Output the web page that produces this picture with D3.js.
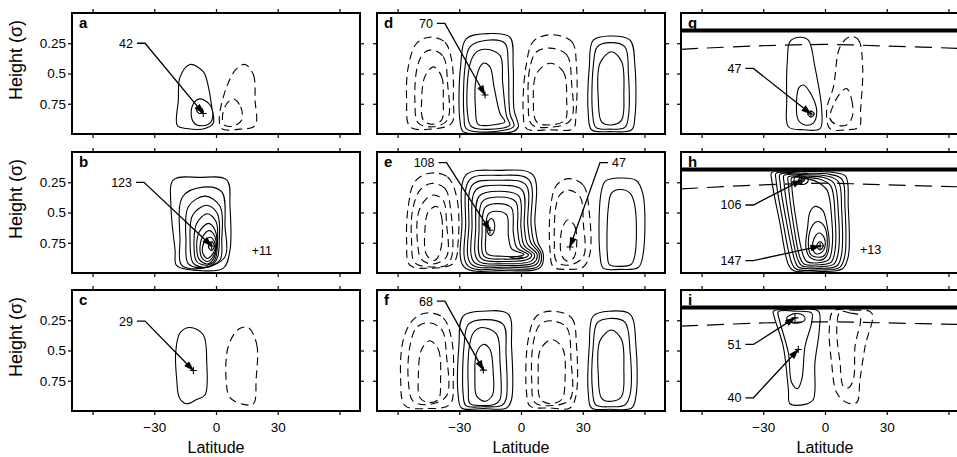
<!DOCTYPE html>
<html>
<head>
<meta charset="utf-8">
<script src="https://cdn.jsdelivr.net/npm/d3@7"></script>
<style>
  body { margin: 0; background: #fff; }
  svg { display: block; font-family: "Liberation Sans", Arial, Helvetica, sans-serif; }
</style>
</head>
<body>
<svg id="fig" width="957" height="457"></svg>
<script>
// axes
const latTicks = [-60, -30, 0, 30, 60];
const latLabelled = [-30, 0, 30];
const sigmaTicks = [0.25, 0.5, 0.75];
const sigmaTickLabels = ['0.25', '0.5', '0.75'];

// contour rings, [latitude, sigma]
const aSolid = [
  [[-12.6,0.425],[-6.2,0.485],[-3.7,0.61],[-2.1,0.775],[-1.3,0.91],[-5.3,0.955],[-14.3,0.955],[-18.8,0.93],[-18.3,0.72],[-17.5,0.53]],
  [[-7.8,0.71],[-2.9,0.76],[-1.6,0.86],[-3.7,0.92],[-9.4,0.925],[-11.8,0.87],[-11.3,0.76]],
  [[-8,0.775],[-6.5,0.8],[-8,0.83],[-9.5,0.8]]
];
const aDashed = [
  [[14.1,0.425],[18.2,0.51],[19,0.72],[19,0.93],[11.7,0.96],[2.8,0.955],[1.6,0.87],[5.2,0.61],[10,0.46]],
  [[8.4,0.71],[12,0.775],[12.5,0.885],[8.4,0.935],[3.9,0.925],[3.2,0.845],[5.2,0.75]]
];
const aLabels = [{ text: '42', knee: [-34.5, 0.25], peak: [-6.2, 0.83], side: 'left' }];

const bSolid = [
  [[-20.7,0.23],[-7.8,0.21],[5.2,0.23],[6.8,0.45],[6.8,0.81],[3.6,0.96],[-7.8,0.98],[-19.1,0.94],[-19.9,0.81],[-21.9,0.45]],
  [[-6.2,0.29],[2.8,0.33],[4.4,0.62],[4.4,0.865],[-6.2,0.96],[-16.7,0.935],[-17.5,0.73],[-16.2,0.37]],
  [[-5.3,0.365],[2,0.45],[2.8,0.73],[2,0.89],[-5.3,0.955],[-13.4,0.925],[-14.6,0.73],[-13.4,0.45]],
  [[-4.5,0.44],[0.7,0.51],[1.6,0.73],[0.3,0.89],[-4.5,0.95],[-11,0.92],[-12.6,0.73],[-11.3,0.52]],
  [[-4.2,0.51],[0,0.575],[0.7,0.755],[-0.5,0.89],[-4.2,0.935],[-9.4,0.905],[-10.7,0.755],[-9.4,0.59]],
  [[-3.7,0.59],[-0.5,0.645],[0.3,0.78],[-1.3,0.885],[-4.2,0.925],[-8.1,0.89],[-9.4,0.78],[-8.1,0.66]],
  [[-3.2,0.65],[-0.5,0.7],[0,0.795],[-1.6,0.87],[-4.2,0.905],[-7,0.87],[-7.8,0.79],[-6.5,0.7]],
  [[-2.9,0.705],[-0.8,0.74],[-0.5,0.805],[-2.1,0.855],[-4.2,0.88],[-6.2,0.845],[-6.6,0.79],[-5.3,0.735]],
  [[-2.1,0.741],[-0.8,0.777],[-2.1,0.815],[-3.7,0.782]]
];
const bDashed = [];
const bLabels = [{ text: '123', knee: [-35, 0.251], peak: [-2.1, 0.777], side: 'left' }];
const bNotes = [{ text: '+11', at: [17.4, 0.81] }];

const cSolid = [
  [[-12.6,0.31],[-6.2,0.37],[-4.5,0.6],[-5.3,0.865],[-9.4,0.905],[-14.3,0.94],[-17.8,0.89],[-19.1,0.74],[-19.6,0.52],[-17.5,0.355]]
];
const cDashed = [
  [[15.7,0.31],[19.8,0.45],[19.5,0.74],[18.2,0.94],[13.3,0.945],[6.8,0.89],[4.9,0.74],[6,0.465],[10.9,0.325]]
];
const cLabels = [{ text: '29', knee: [-34.5, 0.257], peak: [-11, 0.665], side: 'left' }];

const dSolid = [
  [[-15.1,0.17],[-5.4,0.2],[-3.8,0.445],[-3.4,0.8],[-1.3,0.94],[-3.8,0.98],[-15.1,0.99],[-28.1,0.98],[-29.7,0.885],[-29.4,0.445],[-26.4,0.21]],
  [[-16.7,0.225],[-7.8,0.25],[-6.2,0.445],[-5.4,0.83],[-3.4,0.935],[-7,0.965],[-26.4,0.96],[-27.7,0.855],[-27.2,0.445],[-24.8,0.28]],
  [[-17.5,0.3],[-10.2,0.35],[-8.9,0.58],[-7,0.855],[-5.4,0.925],[-8.6,0.95],[-24,0.94],[-26,0.83],[-25.1,0.445],[-22.4,0.335]],
  [[-18.3,0.415],[-15.1,0.445],[-13.1,0.61],[-10.2,0.83],[-7.8,0.9],[-11.9,0.92],[-20.8,0.92],[-22.1,0.8],[-21.6,0.525]],
  [[43.2,0.19],[53,0.225],[55.4,0.445],[55.4,0.855],[53.8,0.965],[43.2,0.98],[34.3,0.965],[32.7,0.83],[33.2,0.445],[35.1,0.225]],
  [[43.2,0.245],[50.5,0.28],[52.2,0.5],[52.2,0.855],[50.5,0.945],[43.2,0.96],[36.4,0.945],[34.8,0.83],[35.1,0.445],[37.1,0.28]],
  [[44,0.32],[48.9,0.4],[50,0.665],[48.9,0.885],[44,0.925],[39.2,0.9],[37.6,0.72],[38.4,0.415]]
];
const dDashed = [
  [[-44.3,0.2],[-37,0.24],[-33.7,0.39],[-32.9,0.72],[-33.7,0.91],[-44.3,0.96],[-54,0.94],[-55.6,0.72],[-54.8,0.445],[-50.7,0.25]],
  [[-43.5,0.305],[-37.8,0.36],[-35.7,0.58],[-35.8,0.885],[-42.6,0.94],[-49.9,0.91],[-51.6,0.72],[-50.4,0.445],[-47.5,0.335]],
  [[-42.6,0.445],[-38.6,0.525],[-37.8,0.72],[-38.6,0.885],[-43.5,0.92],[-47.5,0.885],[-48.3,0.72],[-46.7,0.525]],
  [[14.1,0.18],[24.6,0.235],[27,0.445],[26.7,0.83],[25.4,0.955],[14.1,0.965],[2.7,0.955],[1.1,0.83],[2.4,0.445],[6,0.235]],
  [[14.1,0.29],[22.2,0.345],[24.6,0.58],[24.1,0.885],[14.1,0.945],[5.2,0.92],[3.5,0.72],[4.4,0.445],[7.6,0.32]],
  [[14.1,0.415],[20.6,0.485],[22.2,0.72],[21.4,0.885],[14.1,0.925],[7.6,0.9],[6,0.72],[7.6,0.5]]
];
const dLabels = [{ text: '70', knee: [-37, 0.086], peak: [-17.5, 0.678], side: 'left' }];

const eSolid = [
  [[-26.7,0.19],[-11,0.152],[5.8,0.19],[6.8,0.6],[8.3,0.75],[10.8,0.84],[9.3,0.955],[-9,0.98],[-27.7,0.95],[-28.7,0.6]],
  [[-25,0.23],[-11,0.193],[3.9,0.23],[4.9,0.6],[6.4,0.75],[9.8,0.84],[8.3,0.945],[-8.5,0.965],[-25.9,0.94],[-26.9,0.6]],
  [[-23.5,0.27],[-11,0.234],[2.3,0.27],[3.3,0.6],[4.8,0.75],[8.8,0.84],[7.3,0.93],[-8,0.952],[-24.3,0.925],[-25.3,0.6]],
  [[-22,0.315],[-11,0.275],[0.6,0.315],[1.6,0.62],[3.1,0.76],[7.8,0.845],[6.3,0.915],[-8,0.938],[-22.8,0.91],[-23.8,0.62]],
  [[-20.3,0.365],[-11,0.325],[-1,0.365],[0,0.63],[1.5,0.77],[6.6,0.85],[5.1,0.9],[-8,0.924],[-21,0.895],[-22,0.63]],
  [[-18.8,0.41],[-11.5,0.372],[-2.6,0.41],[-1.6,0.65],[0,0.78],[5.2,0.85],[3.7,0.885],[-8,0.905],[-19.4,0.88],[-20.4,0.65]],
  [[-17.5,0.46],[-12,0.427],[-4.7,0.46],[-3.7,0.67],[-2,0.79],[3.6,0.85],[2,0.872],[-8,0.885],[-18,0.86],[-18.9,0.67]],
  [[-16,0.515],[-12.5,0.49],[-7,0.52],[-6.1,0.7],[-4.5,0.8],[1.5,0.845],[0,0.858],[-9,0.862],[-16.5,0.84],[-17.1,0.69]],
  [[-14.5,0.55],[-13,0.58],[-13.2,0.66],[-14.8,0.69],[-16.3,0.66],[-16,0.58]],
  [[-5.3,0.872],[-2,0.865],[1,0.874],[-2,0.882]],
  [[48,0.215],[56,0.235],[59.3,0.35],[59.3,0.85],[57,0.955],[48,0.97],[40,0.96],[38.4,0.85],[38.8,0.35],[41,0.24]],
  [[48,0.31],[53,0.34],[55.4,0.45],[55.4,0.85],[53.5,0.93],[48,0.945],[43,0.93],[42,0.85],[42.5,0.45],[44,0.34]]
];
const eDashed = [
  [[-44.3,0.175],[-35.8,0.205],[-31.3,0.37],[-30.5,0.73],[-32.9,0.92],[-44.3,0.96],[-54,0.935],[-55.6,0.73],[-54.8,0.45],[-51.6,0.245]],
  [[-43.5,0.26],[-37,0.3],[-34,0.505],[-33.7,0.865],[-36.2,0.935],[-43.5,0.95],[-51.6,0.915],[-53.2,0.73],[-52.7,0.48],[-49.1,0.315]],
  [[-42.6,0.355],[-37.8,0.4],[-36.2,0.59],[-36.2,0.865],[-42.6,0.925],[-48.3,0.89],[-50.4,0.73],[-49.9,0.505],[-46.7,0.4]],
  [[-41,0.45],[-38.6,0.535],[-39.1,0.81],[-41.8,0.895],[-45.9,0.85],[-46.7,0.645],[-45.1,0.495]],
  [[23,0.22],[30.3,0.275],[33.2,0.505],[33.5,0.84],[30.3,0.95],[22.2,0.97],[15.7,0.95],[14.1,0.81],[14.4,0.45],[17.3,0.275]],
  [[23,0.315],[28.7,0.37],[30.3,0.59],[30.3,0.865],[23,0.935],[17.3,0.905],[16.2,0.73],[17,0.45],[18.9,0.355]],
  [[23,0.56],[26.2,0.615],[27,0.78],[25.4,0.88],[22.2,0.9],[19.7,0.85],[19.3,0.7],[20.6,0.605]]
];
const eLabels = [
  { text: '108', knee: [-36.2, 0.088], peak: [-15.1, 0.647], side: 'left' },
  { text: '47', knee: [38.4, 0.088], peak: [23.8, 0.785], side: 'right' }
];

const fSolid = [
  [[-18.3,0.175],[-6.2,0.2],[-4.6,0.465],[-4.6,0.905],[-7,0.975],[-18.3,0.98],[-28.9,0.975],[-30.5,0.875],[-30.2,0.465],[-28.1,0.215]],
  [[-18.3,0.245],[-8.6,0.285],[-7.3,0.52],[-7.3,0.905],[-9.4,0.955],[-18.3,0.965],[-26.8,0.955],[-28.1,0.865],[-27.7,0.465],[-25.6,0.285]],
  [[-19.1,0.31],[-11.9,0.365],[-10.2,0.6],[-10.2,0.905],[-12.7,0.945],[-19.1,0.955],[-24.8,0.94],[-25.6,0.82],[-25.1,0.465],[-23.2,0.355]],
  [[-18.3,0.45],[-15.1,0.49],[-13.5,0.685],[-13.8,0.865],[-17.5,0.92],[-21.6,0.875],[-22.4,0.74],[-21.6,0.52]],
  [[43.2,0.175],[53,0.2],[55.9,0.465],[55.9,0.875],[53.8,0.975],[43.2,0.985],[34.3,0.975],[32.7,0.85],[33.2,0.465],[35.1,0.215]],
  [[43.2,0.235],[50.5,0.265],[53,0.5],[53,0.865],[50.5,0.95],[43.2,0.965],[36.4,0.95],[34.8,0.84],[35.1,0.465],[37.1,0.27]],
  [[44,0.33],[48.9,0.41],[50,0.65],[48.9,0.88],[44,0.92],[39.2,0.895],[37.6,0.71],[38.4,0.42]]
];
const fDashed = [
  [[-45.9,0.19],[-37.8,0.23],[-33.7,0.41],[-32.9,0.74],[-34.5,0.945],[-45.9,0.98],[-56.4,0.955],[-58.5,0.74],[-57.2,0.41],[-52.4,0.245]],
  [[-45.1,0.27],[-38.6,0.325],[-36.2,0.545],[-36.2,0.875],[-44.3,0.945],[-52.4,0.92],[-54.8,0.74],[-54,0.465],[-50.7,0.31]],
  [[-44.3,0.42],[-40.2,0.49],[-39.1,0.74],[-40.2,0.905],[-45.1,0.93],[-49.1,0.89],[-49.9,0.71],[-48.3,0.49]],
  [[14.9,0.175],[24.6,0.23],[27,0.465],[26.7,0.875],[23.8,0.975],[14.1,0.975],[4.4,0.96],[2.7,0.85],[3.5,0.41],[7.6,0.215]],
  [[14.9,0.255],[22.2,0.31],[24.3,0.575],[23.8,0.905],[14.9,0.955],[6.8,0.93],[5.2,0.74],[6,0.435],[9.2,0.285]],
  [[14.9,0.41],[20.2,0.48],[21.4,0.74],[19.8,0.905],[14.4,0.94],[9.5,0.905],[8.4,0.71],[9.5,0.49]]
];
const fLabels = [{ text: '68', knee: [-37, 0.092], peak: [-18.3, 0.662], side: 'left' }];

const gSolid = [
  [[-12.2,0.2],[-8.1,0.225],[-4.9,0.445],[-1.6,0.8],[-2.4,0.955],[-10.5,0.965],[-17.8,0.94],[-18.6,0.72],[-18.3,0.39],[-17,0.235]],
  [[-10.5,0.595],[-6.5,0.68],[-4,0.815],[-5.7,0.91],[-9.7,0.925],[-13,0.885],[-13.8,0.72],[-12.6,0.615]],
  [[-6.8,0.81],[-5.2,0.835],[-6.8,0.86],[-8.4,0.835]]
];
const gDashed = [
  [[12.2,0.195],[16.2,0.22],[18.3,0.445],[17.3,0.8],[16.7,0.94],[10.5,0.965],[2.4,0.955],[0.8,0.8],[4.1,0.61],[7.3,0.28]],
  [[10.5,0.625],[13,0.72],[13.3,0.855],[10.5,0.925],[5.7,0.925],[2.4,0.87],[4.1,0.76],[7.3,0.665]]
];
const gLabels = [{ text: '47', knee: [-34.8, 0.458], peak: [-6.8, 0.835], side: 'left' }];
const gTropopause = [[-70,0.30],[-35,0.273],[0,0.26],[30,0.273],[70,0.295]];

const hSolid = [
  [[-25.9,0.17],[-12.2,0.162],[4,0.17],[10,0.2],[11.3,0.45],[11.3,0.865],[8.5,0.965],[-2.4,0.988],[-15.4,0.98],[-17.8,0.93],[-21.9,0.59],[-25.9,0.23]],
  [[-23.8,0.176],[-11.3,0.176],[2.4,0.185],[8.3,0.226],[9.7,0.452],[9.7,0.85],[7.2,0.953],[-2.4,0.975],[-14.1,0.967],[-16.2,0.915],[-20.3,0.59],[-23.8,0.23]],
  [[-21.9,0.185],[-10.9,0.187],[0.8,0.198],[6.5,0.245],[8.1,0.48],[8.1,0.84],[5.9,0.94],[-2.4,0.962],[-12.8,0.953],[-14.6,0.9],[-18.6,0.59],[-21.9,0.245]],
  [[-19.9,0.193],[-10.5,0.198],[-0.8,0.21],[4.4,0.26],[6.5,0.507],[6.5,0.825],[4.4,0.925],[-2.4,0.948],[-11.3,0.94],[-13.3,0.885],[-17,0.59],[-19.9,0.253]],
  [[-17.8,0.204],[-9.7,0.21],[-2.4,0.226],[2.8,0.28],[4.9,0.535],[4.9,0.81],[3,0.91],[-2.4,0.932],[-10.2,0.925],[-12.2,0.87],[-15.4,0.59],[-17.8,0.264]],
  [[-16.2,0.212],[-9.7,0.218],[-4,0.245],[1,0.315],[3.3,0.56],[3.5,0.78],[1.8,0.89],[-3.2,0.915],[-8.9,0.905],[-10.9,0.84],[-13.8,0.59],[-16.2,0.273]],
  [[-4.9,0.45],[-1.2,0.48],[0.8,0.59],[2,0.78],[0.3,0.87],[-3.2,0.895],[-7.8,0.86],[-9.3,0.78],[-8.4,0.615],[-7.3,0.495]],
  [[-3.7,0.575],[-0.5,0.61],[1.1,0.725],[0,0.85],[-3.2,0.87],[-7,0.845],[-8.1,0.755],[-6.5,0.62]],
  [[-2.9,0.67],[-0.5,0.705],[0,0.78],[-1.6,0.83],[-4.4,0.84],[-6,0.79],[-5.3,0.715]],
  [[-2.4,0.74],[-0.8,0.775],[-2.4,0.81],[-4,0.775]],
  [[-13,0.198],[-9.2,0.209],[-8.1,0.237],[-9.7,0.264],[-13,0.264],[-15.1,0.237],[-14.6,0.209]],
  [[-11.5,0.215],[-10,0.232],[-11.5,0.25],[-13,0.232]]
];
const hDashed = [];
const hLabels = [
  { text: '106', knee: [-34.8, 0.438], peak: [-11.3, 0.232], side: 'left' },
  { text: '147', knee: [-34.8, 0.898], peak: [-2.4, 0.777], side: 'left' }
];
const hNotes = [{ text: '+13', at: [17, 0.806] }];
const hTropopause = [[-70,0.305],[-35,0.275],[0,0.258],[30,0.272],[70,0.29]];

const iSolid = [
  [[-25.1,0.175],[-13.8,0.16],[-3.2,0.175],[-2.75,0.325],[-4.9,0.6],[-5.7,0.905],[-9.7,0.945],[-17,0.94],[-17.8,0.82],[-20.3,0.465],[-24.8,0.215]],
  [[-22.7,0.18],[-13.8,0.175],[-6.5,0.19],[-6.5,0.27],[-9.7,0.465],[-11.3,0.74],[-13.4,0.815],[-16.2,0.765],[-17.8,0.52],[-22.2,0.245]],
  [[-14.6,0.195],[-10.5,0.21],[-9.7,0.245],[-12.2,0.27],[-17,0.265],[-18.6,0.23]]
];
const iDashed = [
  [[4,0.175],[13.8,0.166],[22.7,0.19],[19.5,0.465],[17,0.74],[15.4,0.93],[10.5,0.93],[5.7,0.85],[3.2,0.6],[2.1,0.325]],
  [[7.3,0.18],[12.2,0.19],[17,0.215],[14.6,0.465],[13.8,0.74],[11.3,0.81],[8.9,0.795],[7.3,0.6],[5.7,0.325]]
];
const iLabels = [
  { text: '51', knee: [-34.8, 0.45], peak: [-14.6, 0.23], side: 'left' },
  { text: '40', knee: [-34.8, 0.891], peak: [-13, 0.492], side: 'left' }
];
const iTropopause = [[-70,0.299],[-35,0.275],[0,0.263],[30,0.272],[70,0.287]];

const lidSigma = 0.145;

const panels = [
  { id: 'a', col: 0, row: 0, solid: aSolid, dashed: aDashed, labels: aLabels },
  { id: 'b', col: 0, row: 1, solid: bSolid, dashed: bDashed, labels: bLabels, notes: bNotes },
  { id: 'c', col: 0, row: 2, solid: cSolid, dashed: cDashed, labels: cLabels },
  { id: 'd', col: 1, row: 0, solid: dSolid, dashed: dDashed, labels: dLabels },
  { id: 'e', col: 1, row: 1, solid: eSolid, dashed: eDashed, labels: eLabels },
  { id: 'f', col: 1, row: 2, solid: fSolid, dashed: fDashed, labels: fLabels },
  { id: 'g', col: 2, row: 0, solid: gSolid, dashed: gDashed, labels: gLabels, trop: gTropopause },
  { id: 'h', col: 2, row: 1, solid: hSolid, dashed: hDashed, labels: hLabels, notes: hNotes, trop: hTropopause },
  { id: 'i', col: 2, row: 2, solid: iSolid, dashed: iDashed, labels: iLabels, trop: iTropopause }
];

const W = 288, H = 121;
const colX = [72, 377, 681];
const rowY = [13, 152, 290];

const x = d3.scaleLinear().domain([-70, 70]).range([0, W]);
const y = d3.scaleLinear().domain([0, 1]).range([0, H]);

const ringPath = d3.line()
  .x(d => x(d[0]))
  .y(d => y(d[1]))
  .curve(d3.curveCatmullRomClosed.alpha(0.5));

const tropPath = d3.line()
  .x(d => x(d[0]))
  .y(d => y(d[1]))
  .curve(d3.curveCatmullRom.alpha(0.5));

const svg = d3.select('#fig');
const defs = svg.append('defs');

defs.append('marker')
  .attr('id', 'arrow')
  .attr('viewBox', '0 0 12 8')
  .attr('refX', 11)
  .attr('refY', 4)
  .attr('markerWidth', 11)
  .attr('markerHeight', 7)
  .attr('markerUnits', 'userSpaceOnUse')
  .attr('orient', 'auto')
  .append('path')
  .attr('d', 'M0,0L12,4L0,8Z')
  .attr('fill', '#000');

defs.append('clipPath')
  .attr('id', 'plotArea')
  .append('rect')
  .attr('width', W)
  .attr('height', H);

const fmt = d3.format('d');

panels.forEach(p => {
  const g = svg.append('g')
    .attr('transform', 'translate(' + colX[p.col] + ',' + rowY[p.row] + ')');

  // ticks on all four sides, pointing outwards
  const bottom = d3.axisBottom(x).tickValues(latTicks).tickSize(4).tickPadding(7)
    .tickFormat(d => (p.row === 2 && latLabelled.includes(d)) ? fmt(d) : '');
  const top = d3.axisTop(x).tickValues(latTicks).tickSize(4).tickFormat('');
  const left = d3.axisLeft(y).tickValues(sigmaTicks).tickSize(4).tickPadding(2)
    .tickFormat((d, i) => p.col === 0 ? sigmaTickLabels[i] : '');
  const right = d3.axisRight(y).tickValues(sigmaTicks).tickSize(4).tickFormat('');

  [[bottom, 'translate(0,' + H + ')'], [top, null], [left, null], [right, 'translate(' + W + ',0)']]
    .forEach(([ax, tr]) => {
      const a = g.append('g').call(ax);
      if (tr) a.attr('transform', tr);
      a.select('.domain').remove();
      a.selectAll('.tick line').attr('stroke', '#000').attr('stroke-width', 1.2);
      a.selectAll('.tick text')
        .attr('fill', '#000')
        .style('font-size', '13.5px')
        .style('font-family', '"Liberation Sans", Arial, Helvetica, sans-serif');
    });

  const plot = g.append('g').attr('clip-path', 'url(#plotArea)');

  plot.selectAll('path.solid')
    .data(p.solid)
    .enter()
    .append('path')
    .attr('class', 'solid')
    .attr('d', ringPath)
    .attr('fill', 'none')
    .attr('stroke', '#000')
    .attr('stroke-width', 1.1);

  plot.selectAll('path.dashed')
    .data(p.dashed)
    .enter()
    .append('path')
    .attr('class', 'dashed')
    .attr('d', ringPath)
    .attr('fill', 'none')
    .attr('stroke', '#000')
    .attr('stroke-width', 1.1)
    .attr('stroke-dasharray', '8,5');

  if (p.trop) {
    plot.append('line')
      .attr('x1', 0).attr('x2', W)
      .attr('y1', y(lidSigma)).attr('y2', y(lidSigma))
      .attr('stroke', '#000')
      .attr('stroke-width', 4);
    plot.append('path')
      .attr('d', tropPath(p.trop))
      .attr('fill', 'none')
      .attr('stroke', '#000')
      .attr('stroke-width', 1.2)
      .attr('stroke-dasharray', '17,9');
  }

  // plus at each extremum, then the labelled arrow pointing at it
  p.labels.forEach(l => {
    const px = x(l.peak[0]), py = y(l.peak[1]);
    g.append('path')
      .attr('d', 'M' + (px - 3.5) + ',' + py + 'H' + (px + 3.5) + 'M' + px + ',' + (py - 3.5) + 'V' + (py + 3.5))
      .attr('stroke', '#000')
      .attr('stroke-width', 1.1);

    const kx = x(l.knee[0]), ky = y(l.knee[1]);
    const dir = l.side === 'left' ? -1 : 1;
    const tx = kx + dir * 8;
    g.append('path')
      .attr('d', 'M' + tx + ',' + ky + 'L' + kx + ',' + ky + 'L' + px + ',' + py)
      .attr('fill', 'none')
      .attr('stroke', '#000')
      .attr('stroke-width', 1.3)
      .attr('marker-end', 'url(#arrow)');
    g.append('text')
      .attr('x', tx + dir * 4)
      .attr('y', ky)
      .attr('dy', '0.36em')
      .attr('text-anchor', dir < 0 ? 'end' : 'start')
      .style('font-size', '12.5px')
      .text(l.text);
  });

  (p.notes || []).forEach(n => {
    g.append('text')
      .attr('x', x(n.at[0]))
      .attr('y', y(n.at[1]))
      .attr('dy', '0.36em')
      .style('font-size', '12.5px')
      .text(n.text);
  });

  g.append('rect')
    .attr('width', W)
    .attr('height', H)
    .attr('fill', 'none')
    .attr('stroke', '#000')
    .attr('stroke-width', 2);

  g.append('text')
    .attr('x', 7)
    .attr('y', 15)
    .style('font-size', '15px')
    .style('font-weight', 'bold')
    .text(p.id);

  if (p.col === 0) {
    svg.append('text')
      .attr('transform', 'translate(22,' + (rowY[p.row] + 47) + ') rotate(-90)')
      .attr('text-anchor', 'middle')
      .style('font-size', '18px')
      .text('Height (σ)');
  }
  if (p.row === 2) {
    svg.append('text')
      .attr('x', colX[p.col] + W / 2)
      .attr('y', 453)
      .attr('text-anchor', 'middle')
      .style('font-size', '16px')
      .text('Latitude');
  }
});
</script>
</body>
</html>
